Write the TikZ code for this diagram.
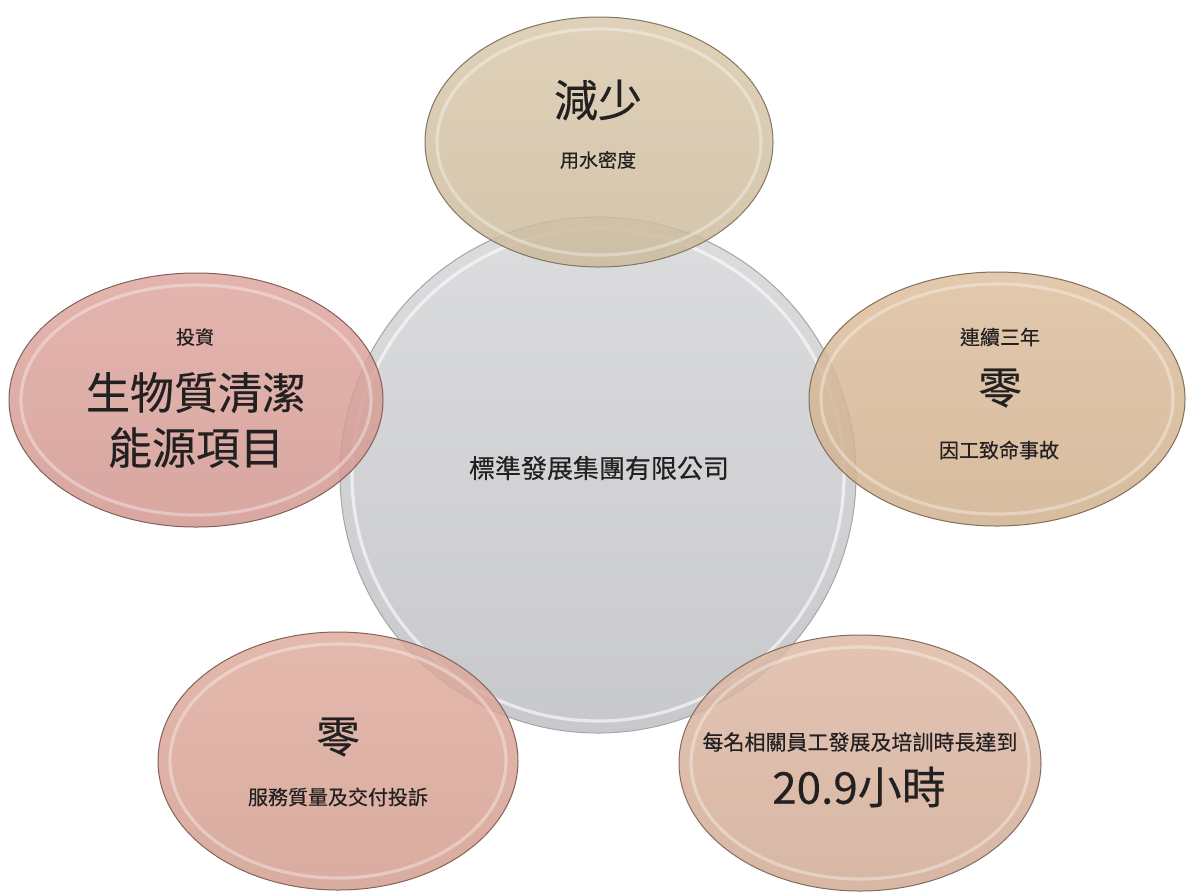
\documentclass[tikz,border=0pt]{standalone}
\usepackage{fontspec}
\setmainfont{Noto Sans CJK TC}[FakeBold=0.35]
\usepackage{tikz}
\usetikzlibrary{shapes.geometric,calc}
\definecolor{hubgray}{RGB}{208,209,212}
\definecolor{sandtan}{RGB}{214,196,164}
\definecolor{rosered}{RGB}{220,158,150}
\definecolor{peachtan}{RGB}{218,184,148}
\definecolor{salmonpk}{RGB}{220,164,148}
\definecolor{apricot}{RGB}{219,178,155}
\definecolor{inkgray}{RGB}{35,32,33}
\newcommand*\smallfs{\fontsize{10}{12}\selectfont}
\newcommand*\bigfs  {\fontsize{22}{27.5}\selectfont}
\tikzset{
    rim/.style    = {path picture={
                        \draw[white, opacity=#1, line width=1.6pt]
                          let \p1 = (path picture bounding box.north east),
                              \p2 = (path picture bounding box.center)
                          in (\p2) ellipse [x radius={\x1-\x2-6pt}, y radius={\y1-\y2-6pt}];
                    }},
    hub/.style    = {circle, draw=gray!70, line width=0.5pt,
                    minimum size=258pt, inner sep=0pt,
                    top color=hubgray!75!white, bottom color=hubgray!96!black, rim=0.6},
    bubble/.style = {ellipse, draw=#1!60!black, line width=0.5pt, inner sep=0pt,
                    top color=#1!92!white, bottom color=#1!95!black,
                    fill opacity=0.84, rim=0.35},
    txt/.style    = {text=inkgray, inner sep=0pt, font=\smallfs},
    bigtxt/.style = {txt, font=\bigfs, align=center},
  }
\begin{document}
\begin{tikzpicture}[x=0.5pt, y=-0.5pt]
        % page frame, 1187 x 891
        \useasboundingbox (0,0) rectangle (1187,891);

        % Centre circle
        \node[hub] (hub) at (598,475) {};

        % Five bubbles round the centre
        \node[bubble=sandtan,  minimum width=174pt, minimum height=125pt] (water)  at (599,142) {};
        \node[bubble=rosered,  minimum width=187pt, minimum height=127pt] (energy) at (196,400) {};
        \node[bubble=peachtan, minimum width=188pt, minimum height=127pt] (safety) at (997,399) {};
        \node[bubble=salmonpk, minimum width=180pt, minimum height=129pt] (claims) at (338,761) {};
        \node[bubble=apricot,  minimum width=181pt, minimum height=128pt] (train)  at (860,763) {};

        % Centre text
        \node[txt, font=\fontsize{13}{15}\selectfont] (hubname) at (599,468) {標準發展集團有限公司};

        % Top bubble
        \node[bigtxt] (waterbig) at (598,100) {減少};
        \node[txt, font=\fontsize{9.5}{11}\selectfont] (watersub) at (598,160) {用水密度};

        % Left bubble
        \node[txt, font=\fontsize{9.5}{11}\selectfont] (energytop) at (195,337) {投資};
        \node[bigtxt] (energybig) at (196,420) {生物質清潔\\能源項目};

        % Right bubble
        \node[txt] (safetytop) at (1000,337) {連續三年};
        \node[bigtxt] (safetybig) at (1000,388) {零};
        \node[txt] (safetysub) at (999,450) {因工致命事故};

        % Bottom left bubble
        \node[bigtxt] (claimsbig) at (338,737) {零};
        \node[txt] (claimssub) at (338,797) {服務質量及交付投訴};

        % Bottom right bubble
        \node[txt, font=\fontsize{10.5}{12}\selectfont] (traintop) at (860,742) {每名相關員工發展及培訓時長達到};
        \node[bigtxt] (trainbig) at (859,787) {20.9小時};
    \end{tikzpicture}
\end{document}
